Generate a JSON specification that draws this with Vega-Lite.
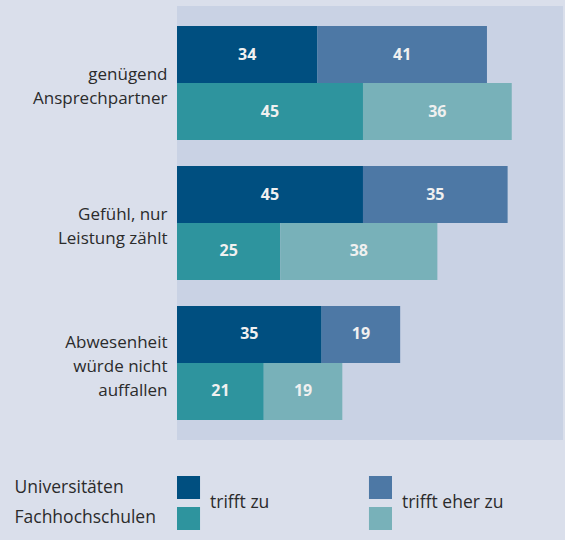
{
  "$schema": "https://vega.github.io/schema/vega-lite/v6.json",
  "background": "#dadfeb",
  "padding": {"left": 14, "top": 6, "right": 2, "bottom": 10},
  "config": {"font": "Open Sans", "view": {"stroke": null}},
  "spacing": 36,
  "bounds": "flush",
  "datasets": {
    "werte": [
      {"Aussage": "genügend|Ansprechpartner", "Hochschule": "Universitäten", "Antwort": "trifft zu", "Reihenfolge": 1, "Gruppe": "Universitäten – trifft zu", "Wert": 34},
      {"Aussage": "genügend|Ansprechpartner", "Hochschule": "Universitäten", "Antwort": "trifft eher zu", "Reihenfolge": 2, "Gruppe": "Universitäten – trifft eher zu", "Wert": 41},
      {"Aussage": "genügend|Ansprechpartner", "Hochschule": "Fachhochschulen", "Antwort": "trifft zu", "Reihenfolge": 1, "Gruppe": "Fachhochschulen – trifft zu", "Wert": 45},
      {"Aussage": "genügend|Ansprechpartner", "Hochschule": "Fachhochschulen", "Antwort": "trifft eher zu", "Reihenfolge": 2, "Gruppe": "Fachhochschulen – trifft eher zu", "Wert": 36},
      {"Aussage": "Gefühl, nur|Leistung zählt", "Hochschule": "Universitäten", "Antwort": "trifft zu", "Reihenfolge": 1, "Gruppe": "Universitäten – trifft zu", "Wert": 45},
      {"Aussage": "Gefühl, nur|Leistung zählt", "Hochschule": "Universitäten", "Antwort": "trifft eher zu", "Reihenfolge": 2, "Gruppe": "Universitäten – trifft eher zu", "Wert": 35},
      {"Aussage": "Gefühl, nur|Leistung zählt", "Hochschule": "Fachhochschulen", "Antwort": "trifft zu", "Reihenfolge": 1, "Gruppe": "Fachhochschulen – trifft zu", "Wert": 25},
      {"Aussage": "Gefühl, nur|Leistung zählt", "Hochschule": "Fachhochschulen", "Antwort": "trifft eher zu", "Reihenfolge": 2, "Gruppe": "Fachhochschulen – trifft eher zu", "Wert": 38},
      {"Aussage": "Abwesenheit|würde nicht|auffallen", "Hochschule": "Universitäten", "Antwort": "trifft zu", "Reihenfolge": 1, "Gruppe": "Universitäten – trifft zu", "Wert": 35},
      {"Aussage": "Abwesenheit|würde nicht|auffallen", "Hochschule": "Universitäten", "Antwort": "trifft eher zu", "Reihenfolge": 2, "Gruppe": "Universitäten – trifft eher zu", "Wert": 19},
      {"Aussage": "Abwesenheit|würde nicht|auffallen", "Hochschule": "Fachhochschulen", "Antwort": "trifft zu", "Reihenfolge": 1, "Gruppe": "Fachhochschulen – trifft zu", "Wert": 21},
      {"Aussage": "Abwesenheit|würde nicht|auffallen", "Hochschule": "Fachhochschulen", "Antwort": "trifft eher zu", "Reihenfolge": 2, "Gruppe": "Fachhochschulen – trifft eher zu", "Wert": 19}
    ],
    "legende": [
      {"Hochschule": "Universitäten", "Antwort": "trifft zu", "Gruppe": "Universitäten – trifft zu"},
      {"Hochschule": "Universitäten", "Antwort": "trifft eher zu", "Gruppe": "Universitäten – trifft eher zu"},
      {"Hochschule": "Fachhochschulen", "Antwort": "trifft zu", "Gruppe": "Fachhochschulen – trifft zu"},
      {"Hochschule": "Fachhochschulen", "Antwort": "trifft eher zu", "Gruppe": "Fachhochschulen – trifft eher zu"}
    ],
    "antworten": [
      {"Antwort": "trifft zu"},
      {"Antwort": "trifft eher zu"}
    ]
  },
  "vconcat": [
    {
      "width": 386,
      "height": 434,
      "view": {"fill": "#c9d2e4", "stroke": null},
      "data": {"name": "werte"},
      "encoding": {
        "y": {
          "field": "Aussage", "type": "nominal",
          "sort": ["genügend|Ansprechpartner", "Gefühl, nur|Leistung zählt", "Abwesenheit|würde nicht|auffallen"],
          "scale": {"paddingInner": 0.1857, "paddingOuter": 0.1429},
          "axis": {
            "title": null, "domain": false, "ticks": false, "labelPadding": 10, "labelFontSize": 17, "labelColor": "#2b2b2b", "labelLineHeight": 24,
            "labelExpr": "split(datum.label, '|')", "labelLimit": 200,
            "labelOffset": {"condition": {"test": "indexof(datum.value, 'Abwesenheit') >= 0", "value": -20}, "value": -8}
          }
        },
        "yOffset": {
          "field": "Hochschule", "type": "nominal",
          "sort": ["Universitäten", "Fachhochschulen"],
          "scale": {"paddingInner": 0, "paddingOuter": 0}
        },
        "x": {"field": "Wert", "type": "quantitative", "stack": "zero", "scale": {"domain": [0, 93.4], "nice": false, "zero": true}, "axis": null},
        "order": {"field": "Reihenfolge", "type": "quantitative"}
      },
      "layer": [
        {
          "mark": {"type": "bar"},
          "encoding": {
            "color": {
              "field": "Gruppe", "type": "nominal",
              "scale": {
                "domain": ["Universitäten – trifft zu", "Universitäten – trifft eher zu", "Fachhochschulen – trifft zu", "Fachhochschulen – trifft eher zu"],
                "range": ["#004f80", "#4d78a5", "#2e949e", "#78b1b9"]
              },
              "legend": null
            }
          }
        },
        {
          "mark": {"type": "text", "fontWeight": "bold", "fontSize": 16, "color": "#f0f0f0", "baseline": "middle", "align": "center"},
          "encoding": {
            "x": {"field": "Wert", "type": "quantitative", "stack": "zero", "bandPosition": 0.5},
            "text": {"field": "Wert", "type": "quantitative"}
          }
        }
      ]
    },
    {
      "width": 215,
      "height": 54,
      "layer": [
        {
          "data": {"name": "legende"},
          "mark": {"type": "rect"},
          "encoding": {
            "x": {"field": "Antwort", "type": "nominal", "sort": ["trifft zu", "trifft eher zu"], "scale": {"paddingInner": 0.88, "paddingOuter": 0}, "axis": null},
            "y": {
              "field": "Hochschule", "type": "nominal", "sort": ["Universitäten", "Fachhochschulen"],
              "scale": {"paddingInner": 0.258, "paddingOuter": 0},
              "axis": {"title": null, "domain": false, "ticks": false, "labelAlign": "left", "labelPadding": 163, "labelFontSize": 17.5, "labelColor": "#2b2b2b", "labelLimit": 200}
            },
            "color": {"field": "Gruppe", "type": "nominal", "legend": null}
          }
        },
        {
          "data": {"name": "antworten"},
          "mark": {"type": "text", "align": "left", "baseline": "middle", "dx": 21.5, "fontSize": 17.5, "color": "#2b2b2b"},
          "encoding": {
            "x": {"field": "Antwort", "type": "nominal", "sort": ["trifft zu", "trifft eher zu"]},
            "text": {"field": "Antwort", "type": "nominal"}
          }
        }
      ]
    }
  ]
}
